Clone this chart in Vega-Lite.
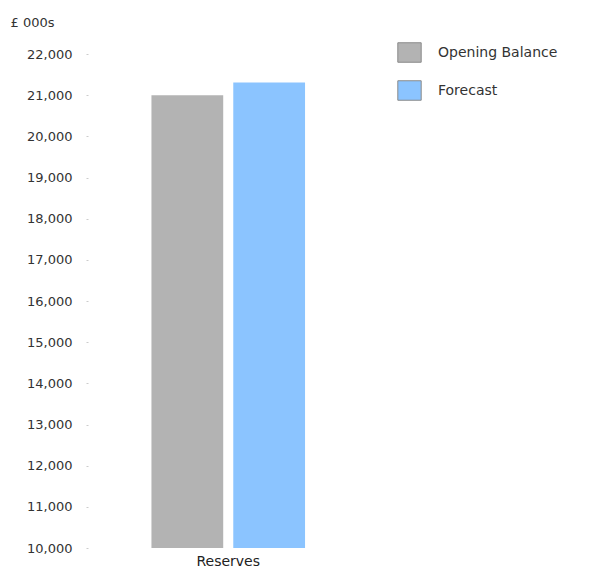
{
  "$schema": "https://vega.github.io/schema/vega-lite/v6.json",
  "autosize": {"type": "none"},
  "padding": {"left": 88, "top": 54, "right": 225, "bottom": 19},
  "width": 278,
  "height": 494,
  "background": "white",
  "config": {
    "view": {"stroke": null},
    "font": "DejaVu Sans",
    "axis": {"labelFont": "DejaVu Sans", "labelFontSize": 13, "labelColor": "#333333", "grid": false}
  },
  "data": {
    "values": [
      {"category": "Reserves", "series": "Opening Balance", "value": 21000},
      {"category": "Reserves", "series": "Forecast", "value": 21310}
    ]
  },
  "mark": {"type": "bar", "clip": true},
  "encoding": {
    "x": {
      "field": "category", "type": "nominal",
      "scale": {"paddingInner": 0, "paddingOuter": 0.405, "align": 0.51},
      "axis": {"title": null, "domain": false, "ticks": false, "labelAngle": 0, "labelPadding": 6, "labelColor": "#222222", "labelFontSize": 14}
    },
    "xOffset": {
      "field": "series", "type": "nominal",
      "scale": {"domain": ["Opening Balance", "Forecast"], "paddingInner": 0.123, "paddingOuter": 0}
    },
    "y": {
      "field": "value", "type": "quantitative",
      "scale": {"domain": [10000, 22000], "zero": false, "nice": false},
      "axis": {
        "values": [10000, 11000, 12000, 13000, 14000, 15000, 16000, 17000, 18000, 19000, 20000, 21000, 22000],
        "format": ",d",
        "domain": false,
        "tickSize": 2,
        "tickColor": "#cccccc",
        "labelPadding": 14,
        "title": "£ 000s",
        "titleAngle": 0,
        "titleAlign": "left",
        "titleBaseline": "middle",
        "titleX": -78,
        "titleY": -32,
        "titleFont": "DejaVu Sans",
        "titleFontSize": 13,
        "titleFontWeight": "normal",
        "titleColor": "#333333"
      }
    },
    "color": {
      "field": "series", "type": "nominal",
      "scale": {"domain": ["Opening Balance", "Forecast"], "range": ["#b3b3b3", "#8bc4ff"]},
      "legend": {
        "title": null,
        "orient": "none",
        "legendX": 311,
        "legendY": -12,
        "symbolType": "M-1.2,-1L1.2,-1L1.2,1L-1.2,1Z",
        "symbolSize": 380,
        "symbolStrokeWidth": 1,
        "symbolStrokeColor": "#8a8a8a",
        "symbolOpacity": 1,
        "labelFont": "DejaVu Sans",
        "labelFontSize": 14,
        "labelColor": "#333333",
        "labelOffset": 18,
        "rowPadding": 13
      }
    }
  }
}
